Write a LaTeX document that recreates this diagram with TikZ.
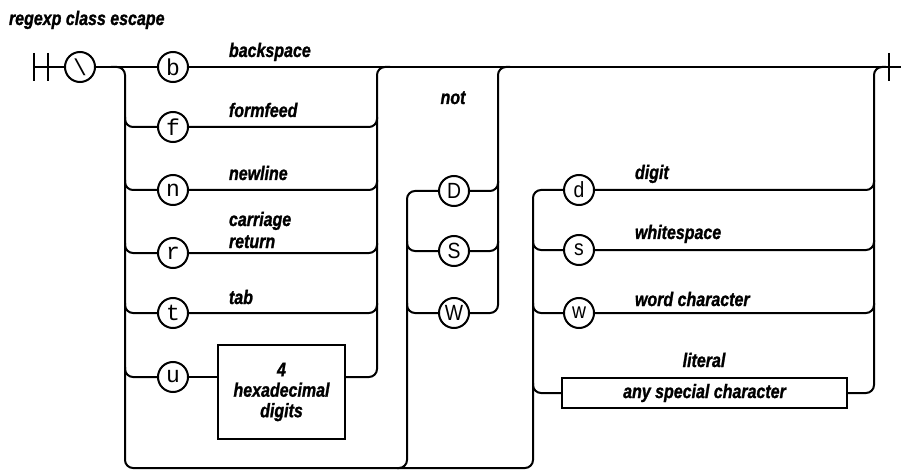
\documentclass[tikz,border=0pt]{standalone}
\usepackage{fontspec}
\setmainfont[FakeStretch=0.82,BoldItalicFeatures={FakeBold=1.2}]{Liberation Sans}
\newfontfamily\rrmono{Liberation Mono}
\newfontfamily\rrsans[FakeStretch=0.88]{Liberation Sans}
\usepackage{tikz}
\usetikzlibrary{positioning,calc}

\begin{document}
\begin{tikzpicture}[x=1pt,y=-1pt,line width=2pt,
    term/.style={draw,circle,minimum size=30pt,inner sep=0pt,
                 font=\fontsize{23}{23}\rrmono},
    cls/.style={term,font=\fontsize{22}{22}\rrsans},
    lbl/.style={inner sep=0pt,anchor=base west,
                font=\fontsize{19.5}{20}\selectfont\bfseries\itshape},
    boxed/.style={draw,inner sep=0pt,align=center,
                  font=\fontsize{19.5}{20.5}\selectfont\bfseries\itshape},
    bus/.style={rounded corners=8pt}]
  % 正则类转义的语法铁路图。
  \useasboundingbox (0,0) rectangle (901,470);
  \node[lbl] (title) at (8,25) {regexp class escape};

  \coordinate (st1) at (34,67);
  \coordinate (st2) at (48,67);
  \coordinate (fin) at (889,67);
  \coordinate (out) at (901,67);
  \coordinate (la) at (125,468);
  \coordinate (lb) at (407,468);
  \coordinate (lc) at (533,468);
  \coordinate (ra) at (377,67);
  \coordinate (rb) at (498,67);
  \coordinate (rc) at (874,67);

  \node[term] (bs) at (80,67) {\textbackslash};
  \node[term] (b) at (173,67) {b};
  \node[term] (f) at (173,127) {f};
  \node[term] (n) at (173,190) {n};
  \node[term] (r) at (173,253) {r};
  \node[term] (t) at (173,313) {t};
  \node[term] (u) at (173,377) {u};
  \node[boxed,minimum width=127pt,minimum height=94pt] (hex) at (281.5,392)
    {4\\hexadecimal\\digits};

  \node[cls] (D) at (454,191) {D};
  \node[cls] (S) at (454,251) {S};
  \node[cls] (W) at (454,313) {W};

  \node[cls] (d) at (579,190) {d};
  \node[cls] (s) at (579,250) {s};
  \node[cls] (w) at (579,313) {w};
  \node[boxed,minimum width=285pt,minimum height=30pt] (lit) at (704.5,393)
    {any special character};

  \node[lbl] (txtb) at (228,57) {backspace};
  \node[lbl] (txtf) at (228,117) {formfeed};
  \node[lbl] (txtn) at (228,180) {newline};
  \node[lbl] (txtr1) at (228,226) {carriage};
  \node[lbl] (txtr2) at (228,248) {return};
  \node[lbl] (txtt) at (228,304) {tab};
  \node[lbl,anchor=base] (txtnot) at (453,104) {not};
  \node[lbl] (txtd) at (634,179) {digit};
  \node[lbl] (txts) at (634,239) {whitespace};
  \node[lbl] (txtw) at (634,306) {word character};
  \node[lbl,anchor=base] (txtlit) at (704,367) {literal};

  \draw ($(st1)+(0,-14)$) -- ($(st1)+(0,14)$);
  \draw ($(st2)+(0,-14)$) -- ($(st2)+(0,14)$);
  \draw ($(fin)+(0,-14)$) -- ($(fin)+(0,14)$);
  \draw (st1) -- (bs.west);
  \draw (bs.east) -- (b.west);
  \draw (b.east) -- (out);

  \draw[bus] ($(bs.east)+(15,0)$) -| (la) -- (lc) |- (d.west);
  \draw[bus] ($(f.west -| la)+(0,-10)$) |- (f.west);
  \draw[bus] ($(n.west -| la)+(0,-10)$) |- (n.west);
  \draw[bus] ($(r.west -| la)+(0,-10)$) |- (r.west);
  \draw[bus] ($(t.west -| la)+(0,-10)$) |- (t.west);
  \draw[bus] ($(u.west -| la)+(0,-10)$) |- (u.west);
  \draw[bus] (f.east) -| ($(f.east -| ra)+(0,-10)$);
  \draw[bus] (n.east) -| ($(n.east -| ra)+(0,-10)$);
  \draw[bus] (r.east) -| ($(r.east -| ra)+(0,-10)$);
  \draw[bus] (t.east) -| ($(t.east -| ra)+(0,-10)$);
  \draw (u.east) -- (u.east -| hex.west);
  \draw[bus] (u.east -| hex.east) -| (ra) -- ++(13,0);

  \draw[bus] ($(lb)+(-10,0)$) -- (lb) |- (D.west);
  \draw[bus] ($(S.west -| lb)+(0,-10)$) |- (S.west);
  \draw[bus] ($(W.west -| lb)+(0,-10)$) |- (W.west);
  \draw[bus] (D.east) -| ($(D.east -| rb)+(0,-10)$);
  \draw[bus] (S.east) -| ($(S.east -| rb)+(0,-10)$);
  \draw[bus] (W.east) -| (rb) -- ++(12,0);

  \draw[bus] ($(s.west -| lc)+(0,-10)$) |- (s.west);
  \draw[bus] ($(w.west -| lc)+(0,-10)$) |- (w.west);
  \draw[bus] ($(lit.west -| lc)+(0,-10)$) |- (lit.west);
  \draw[bus] (d.east) -| ($(d.east -| rc)+(0,-10)$);
  \draw[bus] (s.east) -| ($(s.east -| rc)+(0,-10)$);
  \draw[bus] (w.east) -| ($(w.east -| rc)+(0,-10)$);
  \draw[bus] (lit.east) -| (rc) -- ++(12,0);
\end{tikzpicture}
\end{document}
